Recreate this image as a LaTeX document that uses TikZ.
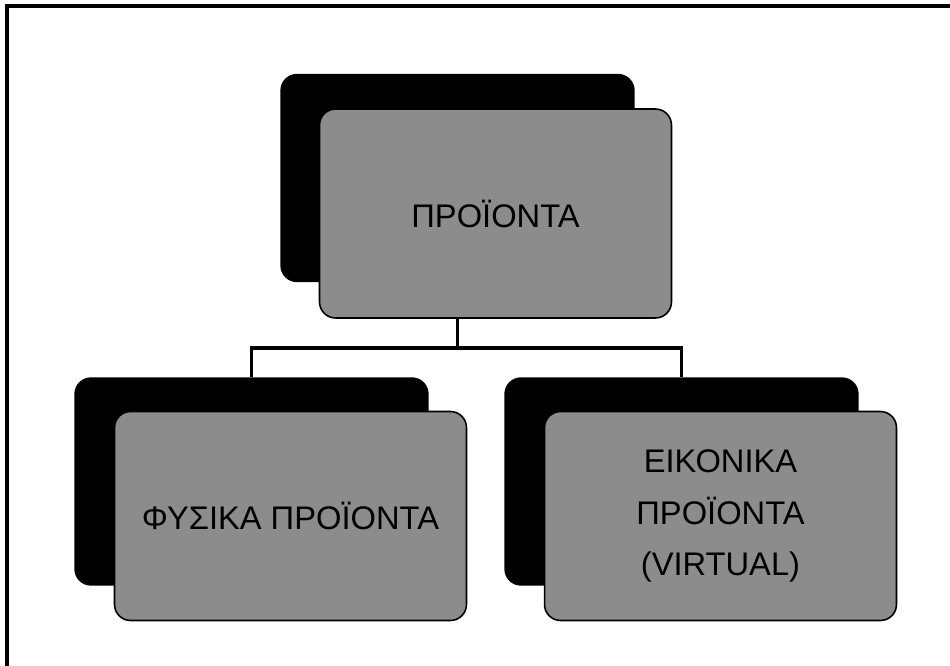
\documentclass[tikz,border=0pt]{standalone}
\usepackage{fontspec}
\setmainfont{Liberation Sans}
\usetikzlibrary{positioning,calc}
\definecolor{boxgray}{RGB}{140,140,140}
\tikzset{
	backbox/.style = {draw=black, fill=black, rectangle, rounded corners=0.32cm, line width=0.8pt, minimum width=7.06cm, minimum height=4.14cm},
	frontbox/.style = {draw=black, fill=boxgray, rectangle, rounded corners=0.32cm, line width=0.9pt, minimum width=7.04cm, minimum height=4.18cm, align=center, font=\fontsize{18.6}{29.5}\selectfont},
	link/.style = {line width=2pt},
	junction/.style = {coordinate}
}

\begin{document}
\begin{tikzpicture}[x=0.02cm, y=-0.02cm]
	\useasboundingbox (0,0) rectangle (950,666);
	% ========================== Frame ============================
	\draw[link] (950,6) -- (7,6) -- (7,666);

	% ========================== Nodes ============================
	% Back (black) boxes
	\node [backbox] (prodback) at (457.5,178) {};
	\node [backbox] (physback) at (251.5,481.5) {};
	\node [backbox] (virtback) at (681.5,481.5) {};
	\node [junction] (split) at (457.5,348) {};

	% ========================== Lines ============================
	\draw [link] (prodback.south) -- (split);
	\draw [link] (physback.north) |- (split);
	\draw [link] (split) -| (virtback.north);

	% Front (grey) boxes
	\node [frontbox] (prod) at ($(prodback)+(38,35.5)$) {ΠΡΟΪΟΝΤΑ};
	\node [frontbox] (phys) at ($(physback)+(39,34.5)$) {ΦΥΣΙΚΑ ΠΡΟΪΟΝΤΑ};
	\node [frontbox] (virt) at ($(virtback)+(39,34.5)$) {ΕΙΚΟΝΙΚΑ\\ΠΡΟΪΟΝΤΑ\\(VIRTUAL)};
\end{tikzpicture}
\end{document}
